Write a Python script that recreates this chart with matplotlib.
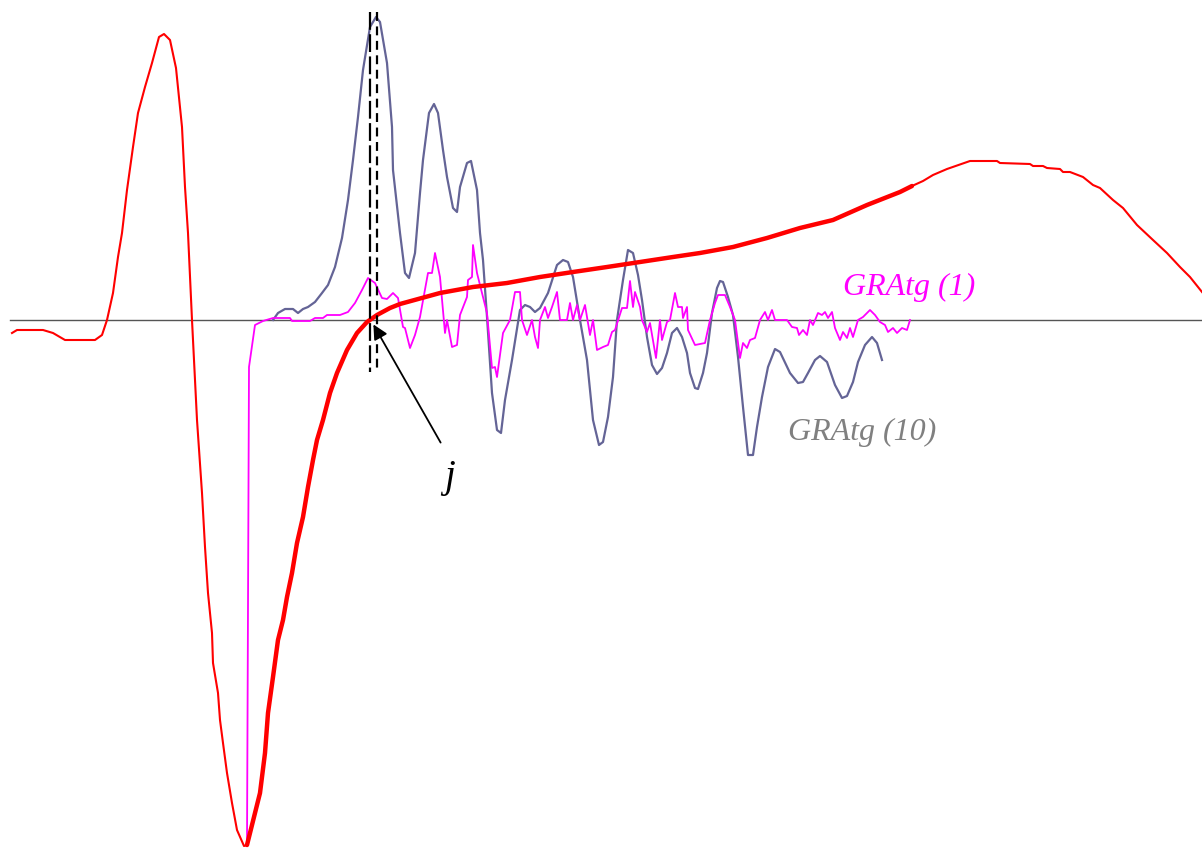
import numpy as np
import matplotlib.pyplot as plt

# red reference curve (thick between the two cut points)
red_x = [12, 17, 43, 53, 65, 95, 102, 107, 113, 118, 122, 127, 133, 138, 145, 152, 159, 164, 170, 176,
         182, 185, 188, 192, 197, 202, 205, 208, 212, 213, 218, 220, 223, 227, 232, 237, 244, 247, 255, 260,
         265, 268, 273, 278, 283, 287, 292, 297, 303, 308, 313, 317, 323, 330, 337, 347, 357, 367, 377, 390,
         400, 440, 473, 507, 540, 573, 607, 640, 673, 700, 733, 767, 800, 833, 867, 900, 912, 923, 933, 947,
         970, 997, 1000, 1030, 1033, 1043, 1047, 1060, 1063, 1070, 1083, 1093, 1100, 1113, 1123, 1137, 1153,
         1167, 1180, 1190, 1202]
red_y = [-13, -10, -10, -13, -20, -20, -15, 0, 27, 63, 87, 130, 173, 207, 233, 257, 283, 286, 280, 252,
         193, 133, 87, 0, -100, -173, -227, -273, -313, -343, -373, -400, -423, -453, -483, -510, -526, -525, -493, -473,
         -433, -393, -357, -320, -300, -277, -253, -223, -197, -167, -140, -120, -100, -73, -53, -30, -13, -2, 5, 12,
         16, 27, 33, 37, 43, 48, 53, 58, 63, 67, 73, 82, 92, 100, 115, 128, 134, 139, 145, 151,
         159, 159, 157, 156, 154, 154, 152, 151, 148, 148, 143, 135, 132, 120, 112, 95, 80,
         67, 53, 43, 28]
thick_from, thick_to = 245, 915

# GRAtg (1)
g1_x = [247, 249, 255, 263, 273, 290, 292, 310, 315, 323, 327, 340, 348, 355, 362, 368, 375, 382, 387, 393,
        398, 403, 405, 410, 415, 420, 428, 432, 435, 440, 445, 447, 452, 457, 460, 467, 468, 472, 473, 477,
        487, 492, 495, 497, 503, 510, 515, 520, 522, 527, 532, 535, 538, 540, 545, 548, 552, 557, 560, 567,
        570, 573, 577, 580, 585, 590, 593, 597, 603, 608, 612, 615, 622, 627, 630, 633, 635, 640, 642, 647,
        650, 656, 660, 662, 667, 670, 675, 678, 682, 683, 687, 688, 695, 705, 710, 715, 718, 725, 730, 735,
        740, 743, 747, 750, 755, 760, 765, 768, 772, 775, 787, 792, 797, 799, 803, 807, 810, 813, 818, 822,
        825, 828, 832, 835, 840, 843, 847, 850, 853, 858, 863, 870, 875, 880, 885, 888, 893, 897, 902, 907, 910]
g1_y = [-525, -47, -5, -1, 2, 2, -1, -1, 2, 2, 5, 5, 8, 17, 30, 42, 37, 22, 21, 27,
        22, -7, -8, -28, -15, 3, 47, 47, 67, 43, -13, 0, -27, -25, 5, 23, 40, 43, 75, 47,
        7, -48, -47, -57, -13, 0, 28, 28, 0, -15, 0, -17, -28, 0, 13, 2, 13, 28, 0, 0,
        17, 0, 15, 0, 15, -15, 0, -30, -27, -25, -12, -10, 12, 12, 39, 13, 28, 13, 0, -12,
        -3, -38, 0, -20, -2, 0, 27, 13, 13, 2, 13, -10, -25, -23, 0, 17, 25, 25, 13, 0,
        -38, -23, -28, -20, -18, 0, 8, 0, 10, 0, 0, -7, -8, -15, -10, -15, 0, -5, 7, 5,
        8, 2, 8, -8, -20, -12, -18, -8, -17, 0, 3, 10, 5, -2, -5, -12, -8, -13, -8, -10, 0]

# GRAtg (10)
g10_x = [273, 278, 285, 293, 298, 303, 308, 315, 322, 328, 335, 342, 348, 353, 358, 363, 370, 376, 380, 387,
         392, 393, 400, 405, 409, 415, 420, 423, 429, 434, 438, 443, 447, 453, 457, 460, 467, 471, 477, 480,
         483, 487, 492, 497, 501, 505, 512, 520, 525, 530, 535, 540, 548, 557, 563, 568, 573, 580, 587, 593,
         599, 603, 608, 613, 617, 623, 628, 633, 638, 642, 647, 652, 657, 662, 667, 672, 677, 682, 687, 690,
         695, 698, 703, 707, 712, 717, 720, 723, 728, 733, 738, 743, 748, 753, 757, 762, 768, 775, 780, 790,
         798, 803, 808, 815, 820, 827, 835, 842, 847, 853, 858, 865, 872, 877, 882]
g10_y = [0, 7, 11, 11, 7, 11, 13, 18, 27, 35, 53, 82, 120, 160, 203, 250, 293, 303, 298, 257,
         193, 150, 87, 47, 42, 67, 127, 160, 207, 216, 207, 170, 143, 112, 108, 133, 157, 159, 130, 87,
         60, 3, -73, -110, -113, -80, -40, 10, 15, 13, 8, 12, 27, 55, 60, 58, 43, 0, -40, -100,
         -125, -122, -97, -57, 0, 40, 70, 67, 45, 20, -17, -45, -54, -48, -33, -13, -8, -17, -33, -53,
         -68, -69, -53, -33, 7, 32, 39, 38, 23, 5, -37, -87, -135, -135, -107, -77, -47, -29, -32, -53,
         -63, -62, -53, -40, -36, -42, -65, -78, -76, -62, -42, -25, -17, -23, -40]

j_x = [370, 377]
j_top, j_bottom = [308, 308], [-52, -48]

fig = plt.figure(figsize=(12.02, 8.48), dpi=100)
ax = fig.add_axes([0, 0, 1, 1])
ax.set_xlim(0, 1202)
ax.set_ylim(-528, 320)
ax.axis('off')

ax.plot([10, 1202], [0, 0], color='#555555', lw=1.0, zorder=1)

rx = np.array(red_x)
ry = np.array(red_y)
ax.plot(rx, ry, color='red', lw=1.5, zorder=3)
m = (rx >= thick_from) & (rx <= thick_to)
ax.plot(rx[m], ry[m], color='red', lw=3.2, zorder=4, solid_capstyle='round')

ax.plot(g10_x, g10_y, color='#646496', lw=1.6, zorder=2)
ax.plot(g1_x, g1_y, color='#ff00ff', lw=1.3, zorder=2)

ax.plot([j_x[0]] * 2, [j_top[0], j_bottom[0]], color='black', lw=1.6, dashes=(8, 2), zorder=5)
ax.plot([j_x[1]] * 2, [j_top[1], j_bottom[1]], color='black', lw=1.6, dashes=(4, 2.5), zorder=5)

ax.annotate('', xy=(372, -2), xytext=(442, -125),
            arrowprops=dict(arrowstyle='-|>', color='black', lw=1.3, mutation_scale=22), zorder=6)
ax.text(450, -157, 'j', fontsize=28, family='Liberation Serif', style='italic', ha='center', va='center')

ax.text(843, 33, 'GRAtg (1)', fontsize=23, family='Liberation Serif', style='italic',
        color='#ff00ff', ha='left', va='center')
ax.text(788, -112, 'GRAtg (10)', fontsize=23, family='Liberation Serif', style='italic',
        color='#808080', ha='left', va='center')

fig.savefig('out.png', dpi=100)
